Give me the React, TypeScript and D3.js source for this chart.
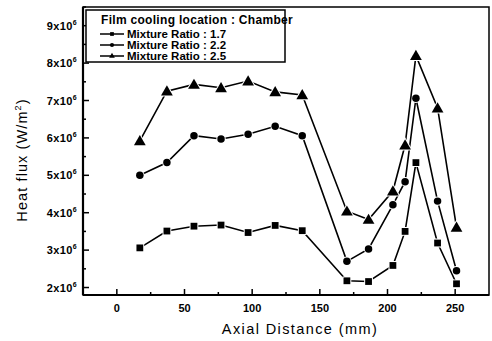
import { useEffect, useRef } from 'react'
import * as d3 from 'd3'

// Axial distance (mm) of the measurement stations
const axialMm = [17, 37, 57, 77, 97, 117, 137, 170, 186, 204, 213, 221, 237, 251]
// Heat flux in units of 10^6 W/m^2
const ratio17 = [3.06, 3.51, 3.64, 3.67, 3.47, 3.66, 3.52, 2.18, 2.16, 2.59, 3.5, 5.34, 3.19, 2.1]
const ratio22 = [5.0, 5.34, 6.06, 5.97, 6.1, 6.31, 6.06, 2.7, 3.03, 4.21, 4.83, 7.06, 4.31, 2.45]
const ratio25 = [5.92, 7.25, 7.43, 7.34, 7.52, 7.23, 7.15, 4.04, 3.82, 4.58, 5.81, 8.2, 6.8, 3.61]
const seriesNames = ['Mixture Ratio : 1.7', 'Mixture Ratio : 2.2', 'Mixture Ratio : 2.5']
const seriesShapes = ['square', 'circle', 'triangle']
const xTicks = [0, 50, 100, 150, 200, 250]
const xMinor = [25, 75, 125, 175, 225]
const yTicks = [2, 3, 4, 5, 6, 7, 8, 9]
const yMinor = [2.5, 3.5, 4.5, 5.5, 6.5, 7.5, 8.5, 9.5]

const W = 492
const H = 341
const FONT = '"Liberation Sans", Arial, sans-serif'

export default function App() {
  const ref = useRef<SVGSVGElement | null>(null)

  useEffect(() => {
    if (!ref.current) return
    const svg = d3.select(ref.current)
    svg.selectAll('*').remove()

    const x = d3.scaleLinear().domain([-25, 275]).range([83, 489])
    const y = d3.scaleLinear().domain([1.8, 9.5]).range([295, 7])

    const symbolFor = (shape: string, size: number) => {
      const type = shape === 'square' ? d3.symbolSquare : shape === 'circle' ? d3.symbolCircle : d3.symbolTriangle
      return d3.symbol().type(type).size(size)()
    }

    // frame
    svg.append('rect').attr('x', 83).attr('y', 7).attr('width', 406).attr('height', 288)
      .attr('fill', 'none').attr('stroke', '#000').attr('stroke-width', 1.5)
    svg.append('line').attr('x1', 83).attr('x2', 489).attr('y1', 295).attr('y2', 295)
      .attr('stroke', '#000').attr('stroke-width', 2.2)
    svg.append('line').attr('x1', 83).attr('x2', 83).attr('y1', 7).attr('y2', 295)
      .attr('stroke', '#000').attr('stroke-width', 2.2)

    // ticks (inward)
    xTicks.forEach(t => {
      svg.append('line').attr('x1', x(t)).attr('x2', x(t)).attr('y1', 295).attr('y2', 289)
        .attr('stroke', '#000').attr('stroke-width', 1.5)
      svg.append('text').attr('x', x(t)).attr('y', 312).attr('text-anchor', 'middle')
        .attr('font-family', FONT).attr('font-size', 11).attr('font-weight', 'bold').text(String(t))
    })
    xMinor.forEach(t => {
      svg.append('line').attr('x1', x(t)).attr('x2', x(t)).attr('y1', 295).attr('y2', 292)
        .attr('stroke', '#000').attr('stroke-width', 1.5)
    })
    yTicks.forEach(t => {
      svg.append('line').attr('x1', 83).attr('x2', 89).attr('y1', y(t)).attr('y2', y(t))
        .attr('stroke', '#000').attr('stroke-width', 1.5)
      const txt = svg.append('text').attr('x', 77).attr('y', y(t) + 4).attr('text-anchor', 'end')
        .attr('font-family', FONT).attr('font-size', 11).attr('font-weight', 'bold')
        .attr('letter-spacing', 0.4)
      txt.append('tspan').text(`${t}x10`)
      txt.append('tspan').attr('dy', -5).attr('font-size', 7).text('6')
    })
    yMinor.forEach(t => {
      svg.append('line').attr('x1', 83).attr('x2', 86).attr('y1', y(t)).attr('y2', y(t))
        .attr('stroke', '#000').attr('stroke-width', 1.5)
    })

    // axis titles
    svg.append('text').attr('x', 300).attr('y', 334).attr('text-anchor', 'middle')
      .attr('font-family', FONT).attr('font-size', 14.5).attr('letter-spacing', 1.4)
      .text('Axial Distance (mm)')
    const yl = svg.append('text').attr('transform', 'translate(27,160) rotate(-90)')
      .attr('text-anchor', 'middle').attr('font-family', FONT).attr('font-size', 14.5)
      .attr('letter-spacing', 1.1)
    yl.append('tspan').text('Heat flux (W/m')
    yl.append('tspan').attr('dy', -6).attr('font-size', 9).text('2')
    yl.append('tspan').attr('dy', 6).text(')')

    // series
    const allSeries = [ratio17, ratio22, ratio25]
    const line = d3.line<number>().x((_, i) => x(axialMm[i])).y(d => y(d))
    allSeries.forEach((vals, si) => {
      svg.append('path').datum(vals).attr('d', line).attr('fill', 'none')
        .attr('stroke', '#000').attr('stroke-width', 1.6)
      const size = seriesShapes[si] === 'triangle' ? 60 : seriesShapes[si] === 'square' ? 46 : 44
      svg.append('g').selectAll('path').data(vals).join('path')
        .attr('transform', (d, i) => `translate(${x(axialMm[i])},${y(d) + (seriesShapes[si] === 'triangle' ? 1 : 0)})`)
        .attr('d', symbolFor(seriesShapes[si], size))
        .attr('fill', '#000').attr('stroke', '#fff').attr('stroke-width', 2).attr('paint-order', 'stroke')
    })

    // legend
    const lg = svg.append('g')
    lg.append('rect').attr('x', 86).attr('y', 10).attr('width', 199).attr('height', 52)
      .attr('fill', '#fff').attr('stroke', '#000').attr('stroke-width', 1.5)
    lg.append('text').attr('x', 101).attr('y', 24).attr('font-family', FONT).attr('font-size', 12)
      .attr('font-weight', 'bold').attr('letter-spacing', 0.3).text('Film cooling location : Chamber')
    seriesNames.forEach((name, i) => {
      const yy = 34 + i * 11
      lg.append('line').attr('x1', 100).attr('x2', 124).attr('y1', yy).attr('y2', yy)
        .attr('stroke', '#000').attr('stroke-width', 1.5)
      lg.append('path').attr('transform', `translate(112,${yy})`)
        .attr('d', symbolFor(seriesShapes[i], 14)).attr('fill', '#000')
      lg.append('text').attr('x', 127).attr('y', yy + 4).attr('font-family', FONT).attr('font-size', 11.5)
        .attr('font-weight', 'bold').text(name)
    })
  }, [])

  return (
    <div style={{ position: 'fixed', left: 0, top: 0, background: '#fff' }}>
      <svg ref={ref} width={W} height={H} style={{ display: 'block' }} />
    </div>
  )
}
